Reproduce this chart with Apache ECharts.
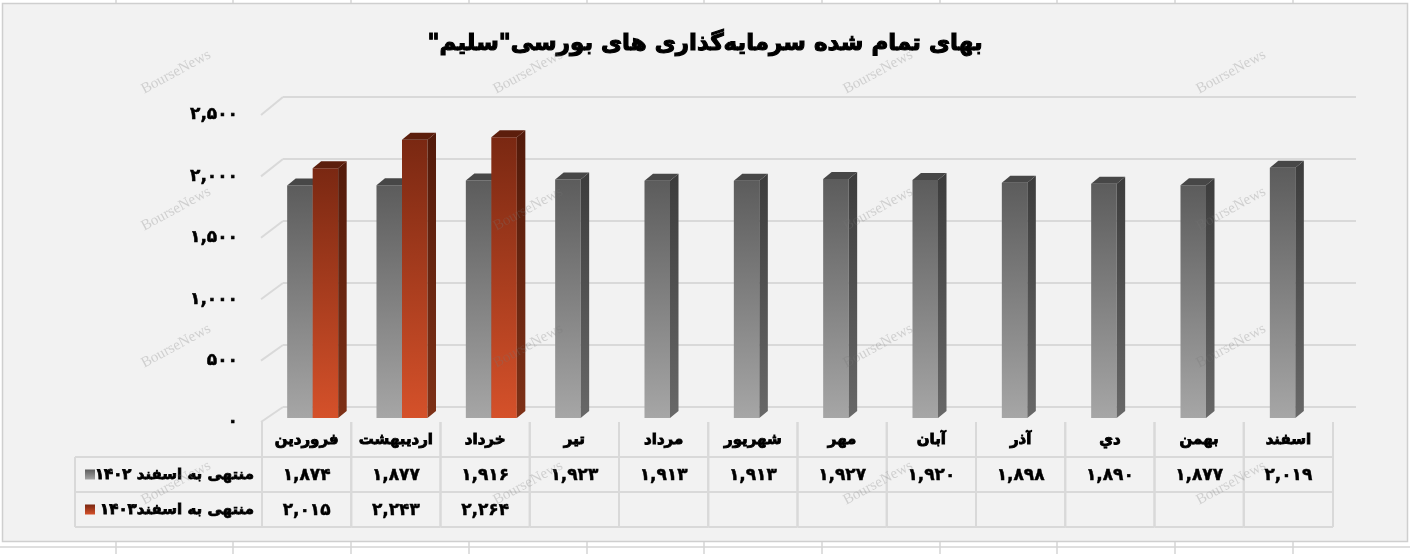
<!DOCTYPE html>
<html>
<head>
    <meta charset="utf-8">
    <title>بهای تمام شده سرمایه‌گذاری های بورسی سلیم</title>
    <script src="https://cdn.jsdelivr.net/npm/echarts@6/dist/echarts.min.js"></script>
    <style>
        html, body {
            margin: 0;
            padding: 0;
            background: #ffffff;
        }
        #main {
            width: 1410px;
            height: 554px;
        }
    </style>
</head>
<body>
<div id="main"></div>
<script>
    // داده ها
    var months = ['فروردین', 'اردیبهشت', 'خرداد', 'تیر', 'مرداد', 'شهریور', 'مهر', 'آبان', 'آذر', 'دي', 'بهمن', 'اسفند'];
    var seriesNames = ['منتهی به اسفند ۱۴۰۲', 'منتهی به اسفند۱۴۰۳'];
    var values1402 = [1874, 1877, 1916, 1923, 1913, 1913, 1927, 1920, 1898, 1890, 1877, 2019];
    var values1403 = [2015, 2243, 2264, null, null, null, null, null, null, null, null, null];
    var yMin = 0, yMax = 2500, yStep = 500;
    var titleText = 'بهای تمام شده سرمایه‌گذاری های بورسی"سلیم"\u200F';

    var FONT = '"DejaVu Sans", sans-serif';
    var FA = '۰۱۲۳۴۵۶۷۸۹';

    function toFa(n) {
        return String(n).replace(/\B(?=(\d{3})+(?!\d))/g, ',').replace(/\d/g, function (d) {
            return FA[d];
        });
    }

    // رنگ ها
    var palette = [
        {front: ['#5c5c5c', '#a6a6a6'], side: ['#3c3c3c', '#686868'], top: '#474747'},
        {front: ['#7a2812', '#d5512a'], side: ['#521a0a', '#7e3117'], top: '#5c1e0c'}
    ];

    var BAR_FRAC = 0.2855;   // پهنای هر ستون نسبت به دسته
    var DX = 8.5, DY = 7;    // عمق سه بعدی
    var BACK_LEFT = 283, FRONT_LEFT = 261, LEGEND_W = 187;

    function grad(c) {
        return new echarts.graphic.LinearGradient(0, 0, 0, 1, [
            {offset: 0, color: c[0]},
            {offset: 1, color: c[1]}
        ]);
    }

    function bar3d(slot) {
        var col = palette[slot];
        return function (params, api) {
            var v = api.value(1);
            if (v == null || isNaN(v)) {
                return;
            }
            var idx = api.value(0);
            var base = api.coord([idx, 0]);
            var top = api.coord([idx, v]);
            var w = api.size([1, 0])[0] * BAR_FRAC;
            var x0 = slot === 0 ? base[0] - w : base[0];
            var x1 = x0 + w;
            var y0 = top[1], y1 = base[1];
            return {
                type: 'group',
                children: [
                    {
                        type: 'rect',
                        shape: {x: x0, y: y0, width: w, height: y1 - y0},
                        style: {fill: grad(col.front)}
                    },
                    {
                        type: 'polygon',
                        shape: {points: [[x1, y0], [x1 + DX, y0 - DY], [x1 + DX, y1 - DY], [x1, y1]]},
                        style: {fill: grad(col.side)}
                    },
                    {
                        type: 'polygon',
                        shape: {points: [[x0, y0], [x0 + DX, y0 - DY], [x1 + DX, y0 - DY], [x1, y0]]},
                        style: {fill: col.top}
                    }
                ]
            };
        };
    }

    function line(x1, y1, x2, y2) {
        return {
            type: 'line',
            shape: {x1: x1, y1: y1, x2: x2, y2: y2},
            style: {stroke: '#d9d9d9', lineWidth: 2}
        };
    }

    function boldText(text, x, y, align, size, weight) {
        return {
            type: 'text',
            style: {
                text: text, x: x, y: y, align: align, verticalAlign: 'middle',
                fontSize: size, fontWeight: 'bold', fontFamily: FONT,
                fill: '#000', stroke: '#000', lineWidth: weight
            }
        };
    }

    function cellText(row, col) {
        if (row === 0) return months[col];
        var v = row === 1 ? values1402[col] : values1403[col];
        return v == null ? '' : toFa(v);
    }

    // جدول داده زیر نمودار
    function renderTable(params, api) {
        var col = api.value(0), row = api.value(1);
        var c = api.coord([col, row]);
        var s = api.size([1, 1]);
        var l = c[0] - s[0] / 2, r = c[0] + s[0] / 2;
        var t = c[1] - s[1] / 2, b = c[1] + s[1] / 2;
        var children = [line(l, t, l, b), line(r, t, r, b), line(l, b, r, b)];
        if (row === 0) {
            children.push(boldText(cellText(row, col), c[0], c[1] + 1, 'center', 15, 0.9));
        } else {
            children.push(boldText(cellText(row, col), c[0], c[1] + 1, 'center', 17, 0.45));
        }
        if (col === 0 && row > 0) {
            var lx = l - LEGEND_W;
            children.push(line(lx, t, l, t), line(lx, b, l, b), line(lx, t, lx, b));
            children.push({
                type: 'rect',
                shape: {x: lx + 10, y: c[1] - 5, width: 10, height: 10},
                style: {fill: grad(palette[row - 1].front)}
            });
            children.push(boldText(seriesNames[row - 1], l - 8, c[1] + 1, 'right', 15, 0.8));
        }
        return {type: 'group', children: children};
    }

    var barData1402 = values1402.map(function (v, i) { return [i, v]; });
    var barData1403 = values1403.map(function (v, i) { return [i, v]; });
    var tableData = [];
    months.forEach(function (m, i) {
        tableData.push([i, 0], [i, 1], [i, 2]);
    });

    // واترمارک و قاب
    var graphics = [
        {type: 'rect', id: 'stripTop', shape: {x: 0, y: 0, width: 1410, height: 3}, style: {fill: '#fff'}},
        {type: 'rect', id: 'stripBottom', shape: {x: 0, y: 542, width: 1410, height: 12}, style: {fill: '#fff'}},
        {type: 'rect', id: 'stripLeft', shape: {x: 0, y: 0, width: 2, height: 554}, style: {fill: '#fff'}},
        {type: 'rect', id: 'stripRight', shape: {x: 1408, y: 0, width: 2, height: 554}, style: {fill: '#fff'}},
        {type: 'rect', id: 'frame', shape: {x: 2.5, y: 3.5, width: 1405, height: 538}, style: {fill: null, stroke: '#cfcfcf', lineWidth: 1.5}},
        {type: 'line', id: 'sheetRow', shape: {x1: 0, y1: 547, x2: 1410, y2: 547}, style: {stroke: '#d4d4d4', lineWidth: 1.5}}
    ];
    for (var k = 1; k < 12; k++) {
        var sx = Math.round(k * 117.7 - 2);
        graphics.push({type: 'line', id: 'sheetT' + k, shape: {x1: sx, y1: 0, x2: sx, y2: 3}, style: {stroke: '#d4d4d4', lineWidth: 1.5}});
        graphics.push({type: 'line', id: 'sheetB' + k, shape: {x1: sx, y1: 542, x2: sx, y2: 554}, style: {stroke: '#d4d4d4', lineWidth: 1.5}});
    }
    [176, 528, 878, 1231].forEach(function (wx, i) {
        [72, 209, 346, 483].forEach(function (wy, j) {
            graphics.push({
                type: 'text', id: 'wm' + i + '_' + j, x: wx, y: wy, rotation: 0.5, z: 100,
                style: {
                    text: 'BourseNews', align: 'center', verticalAlign: 'middle',
                    fontSize: 15, fontFamily: '"Liberation Serif", serif', fill: 'rgba(120,120,120,0.28)'
                }
            });
        });
    });

    var chart = echarts.init(document.getElementById('main'));

    var option = {
        backgroundColor: '#f2f2f2',
        animation: false,
        title: {
            text: titleText,
            left: 'center',
            top: 28,
            textStyle: {
                fontSize: 23, fontWeight: 'bold', fontFamily: FONT, color: '#000',
                textBorderColor: '#000', textBorderWidth: 1.1
            }
        },
        grid: [
            {left: BACK_LEFT, right: 54, top: 97, bottom: 147},
            {left: 268, right: 70, top: 108, bottom: 136},
            {left: FRONT_LEFT, right: 77, top: 115, bottom: 132},
            {left: 262, right: 77, top: 422, bottom: 27}
        ],
        xAxis: [
            {gridIndex: 0, type: 'category', data: months, show: false},
            {gridIndex: 1, type: 'category', data: months, show: false},
            {gridIndex: 2, type: 'category', data: months, show: false},
            {gridIndex: 3, type: 'category', data: months, show: false}
        ],
        yAxis: [
            {
                gridIndex: 0, type: 'value', min: yMin, max: yMax, interval: yStep,
                axisLabel: {show: false}, axisLine: {show: false}, axisTick: {show: false},
                splitLine: {lineStyle: {color: '#d9d9d9', width: 2}}
            },
            {gridIndex: 1, type: 'value', min: yMin, max: yMax, interval: yStep, show: false, splitLine: {show: false}},
            {
                gridIndex: 2, type: 'value', min: yMin, max: yMax, interval: yStep,
                axisLine: {show: false}, axisTick: {show: false}, splitLine: {show: false},
                axisLabel: {
                    formatter: toFa, margin: 23, color: '#000',
                    fontSize: 17, fontWeight: 'bold', fontFamily: FONT,
                    textBorderColor: '#000', textBorderWidth: 0.5
                }
            },
            {gridIndex: 3, type: 'category', data: ['0', '1', '2'], inverse: true, show: false}
        ],
        series: [
            {
                name: seriesNames[0], type: 'custom', xAxisIndex: 1, yAxisIndex: 1,
                renderItem: bar3d(0), encode: {x: 0, y: 1}, data: barData1402
            },
            {
                name: seriesNames[1], type: 'custom', xAxisIndex: 1, yAxisIndex: 1,
                renderItem: bar3d(1), encode: {x: 0, y: 1}, data: barData1403
            },
            {
                name: 'table', type: 'custom', xAxisIndex: 3, yAxisIndex: 3, clip: false,
                renderItem: renderTable, encode: {x: 0, y: 1}, data: tableData
            }
        ],
        graphic: graphics
    };
    chart.setOption(option);

    // خطوط مورب کف و دیوار
    var diag = [];
    for (var v = yMin; v <= yMax; v += yStep) {
        var yf = chart.convertToPixel({yAxisIndex: 2}, v);
        var yb = chart.convertToPixel({yAxisIndex: 0}, v);
        var d = line(FRONT_LEFT, yf, BACK_LEFT, yb);
        d.id = 'diag' + v;
        diag.push(d);
    }
    chart.setOption({graphic: diag});

    window.onresize = function () {
        chart.resize();
    };
</script>
</body>
</html>
